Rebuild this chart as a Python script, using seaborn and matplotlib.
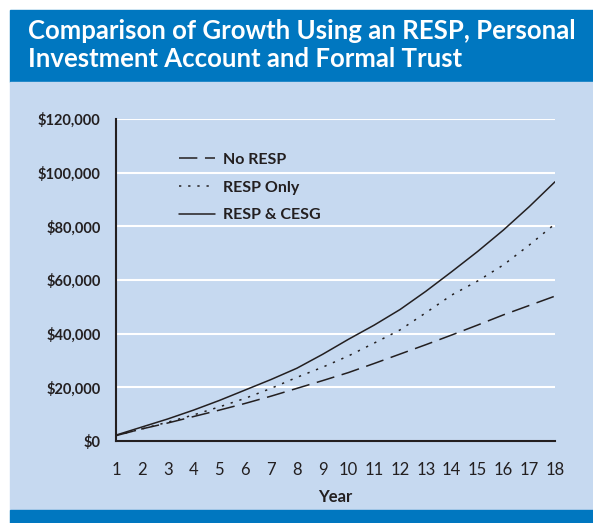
import pandas as pd
import seaborn as sns
import matplotlib.pyplot as plt
from matplotlib.patches import Rectangle

years = list(range(1, 19))
no_resp = [2000, 4500, 6700, 9100, 11500, 14000, 16700, 19600, 22500, 25500,
           28900, 32400, 35900, 39500, 43200, 47000, 50500, 54000]
resp_only = [2000, 4500, 7000, 9700, 12700, 15900, 19600, 23700, 27500, 31700,
             36500, 41400, 47800, 54400, 59600, 65600, 73000, 80900]
resp_cesg = [2200, 5200, 8200, 11500, 15100, 19000, 22900, 27100, 32300, 37900,
             43200, 49000, 55800, 63100, 70600, 78600, 87300, 96600]
series = ['No RESP', 'RESP Only', 'RESP & CESG']

df = pd.DataFrame({
    'Year': years * 3,
    'Value': no_resp + resp_only + resp_cesg,
    'Series': [s for s in series for _ in years],
})

dark_blue = '#0077C0'
light_blue = '#C6D9F0'
ink = '#231F20'

sns.set_style('white')
plt.rcParams['font.family'] = ['Lato', 'DejaVu Sans']

W, H = 593, 523
fig = plt.figure(figsize=(W / 100, H / 100), dpi=100)
fig.patch.set_facecolor('white')

# background panels (pixel coords -> figure fraction), kept behind the axes
def band(x0, y0, x1, y1, color):
    fig.patches.append(Rectangle((x0 / W, 1 - y1 / H), (x1 - x0) / W, (y1 - y0) / H,
                                 transform=fig.transFigure, color=color, zorder=-5))

band(10, 10, W, 82, dark_blue)
band(10, 82, W, 510, light_blue)
band(10, 510, W, H, dark_blue)

fig.text(28 / W, 1 - 45 / H, 'Comparison of Growth Using an RESP, Personal\nInvestment Account and Formal Trust',
         color='white', fontsize=18.5, fontweight='bold', va='center', ha='left', linespacing=1.2)

ax = fig.add_axes([116 / W, 1 - 441 / H, 439 / W, 322 / H])
ax.patch.set_alpha(0)

sns.lineplot(data=df, x='Year', y='Value', style='Series', ax=ax, color=ink,
             linewidth=1.1,
             dashes={'No RESP': (12, 5), 'RESP Only': (1.5, 4.5), 'RESP & CESG': ''})

ax.set_xlim(1, 18)
ax.set_ylim(0, 120000)
ax.set_xticks(years)
ax.set_yticks(range(0, 120001, 20000))
ax.set_yticklabels([f'${v:,}' for v in range(0, 120001, 20000)], fontweight='bold', fontsize=10.5)
ax.tick_params(axis='x', direction='in', length=5, width=1.2, colors=ink, labelsize=12, pad=15)
ax.tick_params(axis='y', direction='in', length=5, width=1.2, colors=ink, pad=11)
ax.yaxis.grid(True, color='white', linewidth=1.5)
ax.set_axisbelow(True)
for s in ['top', 'right']:
    ax.spines[s].set_visible(False)
for s in ['left', 'bottom']:
    ax.spines[s].set_color(ink)
    ax.spines[s].set_linewidth(1.5)
ax.set_xlabel('Year', fontweight='bold', fontsize=12, color=ink, labelpad=8)
ax.set_ylabel('')

leg = ax.legend(loc='upper left', bbox_to_anchor=(0.11, 0.94), frameon=False,
                handlelength=2.3, labelspacing=0.85, fontsize=11.5, handletextpad=0.5)
for t in leg.get_texts():
    t.set_fontweight('bold')
    t.set_color(ink)

fig.savefig('out.png', dpi=100)
